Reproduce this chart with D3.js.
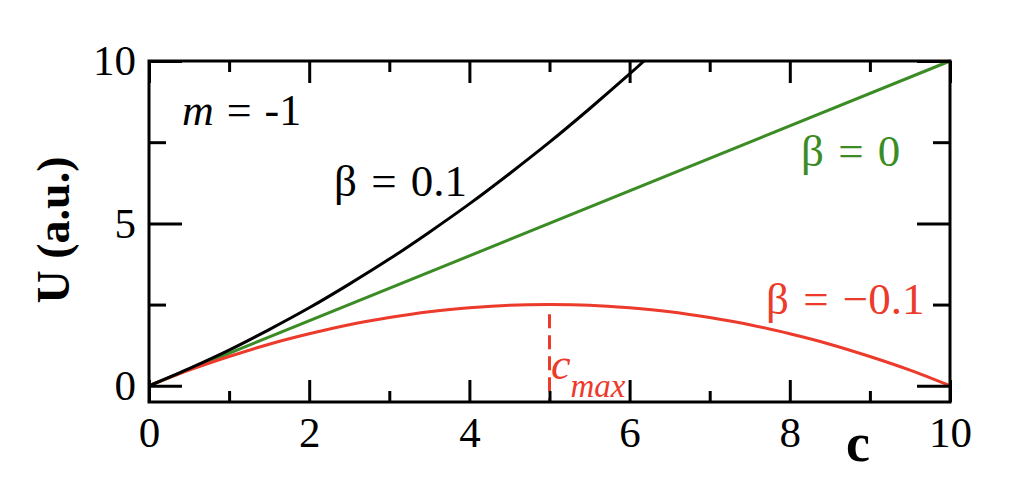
<!DOCTYPE html>
<html><head><meta charset="utf-8">
<script src="https://cdn.jsdelivr.net/npm/d3@7"></script>
<style>
html,body{margin:0;padding:0;background:#fff;}
svg text{font-family:"Liberation Serif","Times New Roman",serif;}
</style></head>
<body>
<svg id="chart" width="1030" height="499"></svg>
<script>
// ---- data ----
const xMajorTicks = [0, 2, 4, 6, 8, 10];
const xMinorTicks = [1, 3, 5, 7, 9];
const yMajorTicks = [0, 5, 10];
const yMinorTicks = [2.5, 7.5];

const cBlack = [0, 0.5, 1, 1.5, 2, 2.5, 3, 3.5, 4, 4.5, 5, 5.5, 6, 6.18];
const uBlack = [0, 0.53, 1.1, 1.73, 2.4, 3.13, 3.9, 4.73, 5.6, 6.53, 7.5, 8.53, 9.6, 10];

const cGreen = [0, 10];
const uGreen = [0, 10];

const cRed = [0, 0.5, 1, 1.5, 2, 2.5, 3, 3.5, 4, 4.5, 5, 5.5, 6, 6.5, 7, 7.5, 8, 8.5, 9, 9.5, 10];
const uRed = [0, 0.48, 0.9, 1.28, 1.6, 1.88, 2.1, 2.28, 2.4, 2.48, 2.5, 2.48, 2.4, 2.28, 2.1, 1.88, 1.6, 1.28, 0.9, 0.48, 0];

const cMax = 5;
const cMaxDashFrom = 2.2;

// ---- layout ----
const FONT = "Liberation Serif";
const svg = d3.select("#chart");
const L = 149, R = 950, T = 61, B = 402;
const x = d3.scaleLinear().domain([0, 10]).range([L, R]);
const y = d3.scaleLinear().domain([-0.5, 10]).range([B, T]);

const BLACK = "#000", GREEN = "#3c8c26", RED = "#ec3a2b";
const tickFont = 43;

// lines
const line = d3.line().x(d => x(d[0])).y(d => y(d[1])).curve(d3.curveCatmullRom);
function draw(cs, us, color) {
  svg.append("path").datum(cs.map((c, i) => [c, us[i]]))
    .attr("d", line).attr("fill", "none").attr("stroke", color).attr("stroke-width", 3);
}
draw(cGreen, uGreen, GREEN);
draw(cRed, uRed, RED);
draw(cBlack, uBlack, BLACK);

// dashed c_max marker
svg.append("line")
  .attr("x1", x(cMax)).attr("x2", x(cMax))
  .attr("y1", y(cMaxDashFrom)).attr("y2", B)
  .attr("stroke", RED).attr("stroke-width", 3).attr("stroke-dasharray", "14,7");

// axes (ticks inward)
function styleAxis(g) {
  g.select(".domain").remove();
  g.selectAll("line").attr("stroke", "#000").attr("stroke-width", 3);
  g.selectAll("text").attr("font-size", tickFont).attr("fill", "#000")
    .attr("font-family", FONT);
}
svg.append("g").attr("transform", `translate(0,${B})`)
  .call(d3.axisBottom(x).tickValues(xMajorTicks).tickSize(-22).tickPadding(14).tickFormat(d3.format("d")))
  .call(styleAxis);
svg.append("g").attr("transform", `translate(0,${B})`)
  .call(d3.axisBottom(x).tickValues(xMinorTicks).tickSize(-11).tickFormat(""))
  .call(styleAxis);
svg.append("g").attr("transform", `translate(0,${T})`)
  .call(d3.axisTop(x).tickValues(xMajorTicks).tickSize(-22).tickFormat(""))
  .call(styleAxis);
svg.append("g").attr("transform", `translate(0,${T})`)
  .call(d3.axisTop(x).tickValues(xMinorTicks).tickSize(-11).tickFormat(""))
  .call(styleAxis);

svg.append("g").attr("transform", `translate(${L},0)`)
  .call(d3.axisLeft(y).tickValues(yMajorTicks).tickSize(-33).tickPadding(13).tickFormat(d3.format("d")))
  .call(styleAxis);
svg.append("g").attr("transform", `translate(${L},0)`)
  .call(d3.axisLeft(y).tickValues(yMinorTicks).tickSize(-17).tickFormat(""))
  .call(styleAxis);
svg.append("g").attr("transform", `translate(${R},0)`)
  .call(d3.axisRight(y).tickValues(yMajorTicks).tickSize(-33).tickFormat(""))
  .call(styleAxis);
svg.append("g").attr("transform", `translate(${R},0)`)
  .call(d3.axisRight(y).tickValues(yMinorTicks).tickSize(-17).tickFormat(""))
  .call(styleAxis);

// frame
svg.append("rect").attr("x", L).attr("y", T).attr("width", R - L).attr("height", B - T)
  .attr("fill", "none").attr("stroke", "#000").attr("stroke-width", 3);

// axis labels
svg.append("text").attr("x", 858).attr("y", 461).attr("text-anchor", "middle")
  .attr("font-family", FONT).attr("font-size", 54).attr("font-weight", "bold").text("c");
svg.append("text").attr("transform", "translate(69,230) rotate(-90)").attr("text-anchor", "middle")
  .attr("font-family", FONT).attr("font-size", 46).attr("font-weight", "bold").text("U (a.u.)");

// annotations
const m = svg.append("text").attr("x", 182).attr("y", 125).attr("font-size", 44)
  .attr("font-family", FONT).attr("word-spacing", 2);
m.append("tspan").attr("font-style", "italic").text("m");
m.append("tspan").text(" = -1");

function note(xp, yp, color, txt) {
  svg.append("text").attr("x", xp).attr("y", yp).attr("font-family", FONT)
    .attr("font-size", 45).attr("word-spacing", 3).attr("fill", color).text(txt);
}
note(334, 196, BLACK, "β = 0.1");
note(801, 166, GREEN, "β = 0");
note(766, 314, RED, "β = \u22120.1");

const cm = svg.append("text").attr("x", 551).attr("y", 379).attr("fill", RED)
  .attr("font-family", FONT).attr("font-style", "italic");
cm.append("tspan").attr("font-size", 44).text("c");
cm.append("tspan").attr("font-size", 33).attr("dy", 18).text("max");
</script>
</body></html>
